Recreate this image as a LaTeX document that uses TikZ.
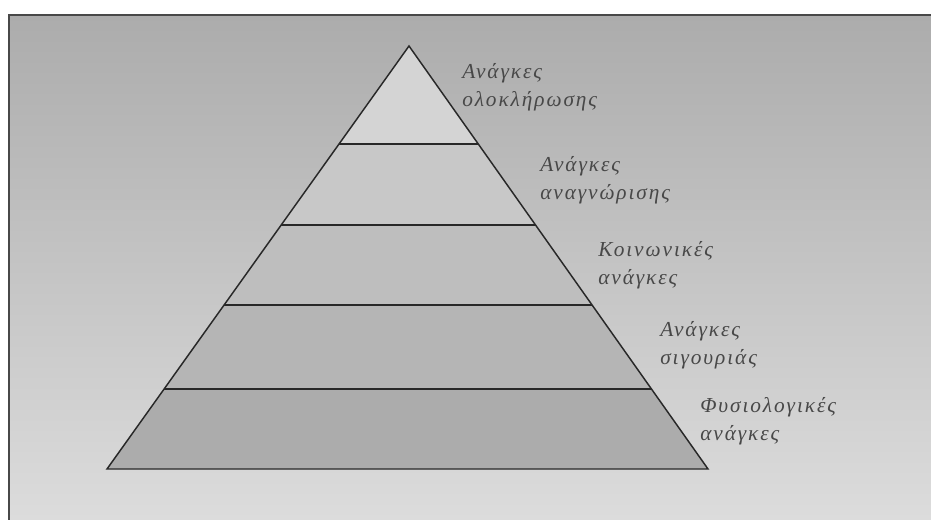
\documentclass[tikz,border=0pt]{standalone}
\usepackage{fontspec}
\setmainfont{Liberation Serif}
\usetikzlibrary{calc}
\definecolor{ink}{RGB}{40,40,40}
\definecolor{labelink}{RGB}{72,72,72}
\definecolor{bgtop}{RGB}{172,172,172}
\definecolor{bgbottom}{RGB}{220,220,220}
\definecolor{tierA}{RGB}{212,212,212}
\definecolor{tierB}{RGB}{200,200,200}
\definecolor{tierC}{RGB}{190,190,190}
\definecolor{tierD}{RGB}{181,181,181}
\definecolor{tierE}{RGB}{172,172,172}
\tikzset{
    line cap=round,
    line join=round,
    frameline/.style={
        draw=ink!85,
        line width=1.5pt
    },
    tierline/.style={
        draw=ink,
        line width=1.1pt
    },
    needlabel/.style={
        anchor=north west,
        align=left,
        inner sep=0pt,
        text=labelink,
        font=\fontsize{16}{21}\selectfont\itshape\addfontfeature{LetterSpace=9}
    }
}

\begin{document}
\begin{tikzpicture}[x=0.75pt, y=-0.75pt]

\useasboundingbox (0,0) rectangle (931,520);

% frame with soft grey shading
\shade[top color=bgtop, bottom color=bgbottom] (8.5,15) rectangle (931,520);
\draw[frameline] (931,15) -- (8.5,15) -- (8.5,520);

% outline of the pyramid
\coordinate (apex) at (409,46);
\coordinate (baseL) at (107,469);
\coordinate (baseR) at (708,469);

% level corners along the two sides
\foreach \name/\t in {1/0.2317, 2/0.4232, 3/0.6123, 4/0.8109} {
    \coordinate (L\name) at ($(apex)!\t!(baseL)$);
    \coordinate (R\name) at ($(apex)!\t!(baseR)$);
}

\fill[tierA] (apex) -- (L1) -- (R1) -- cycle;
\fill[tierB] (L1) -- (L2) -- (R2) -- (R1) -- cycle;
\fill[tierC] (L2) -- (L3) -- (R3) -- (R2) -- cycle;
\fill[tierD] (L3) -- (L4) -- (R4) -- (R3) -- cycle;
\fill[tierE] (L4) -- (baseL) -- (baseR) -- (R4) -- cycle;

\foreach \name in {1,2,3,4} {
    \draw[tierline] (L\name) -- (R\name);
}
\draw[tierline] (apex) -- (baseL) -- (baseR) -- cycle;

% labels to the right of each level
\node[needlabel] (selfneed) at (462,63) {Ανάγκες\\ολοκλήρωσης};
\node[needlabel] (esteemneed) at (540,156) {Ανάγκες\\αναγνώρισης};
\node[needlabel] (socialneed) at (598,241) {Κοινωνικές\\ανάγκες};
\node[needlabel] (safetyneed) at (660,321) {Ανάγκες\\σιγουριάς};
\node[needlabel] (bodyneed) at (700,397) {Φυσιολογικές\\ανάγκες};

\end{tikzpicture}
\end{document}
